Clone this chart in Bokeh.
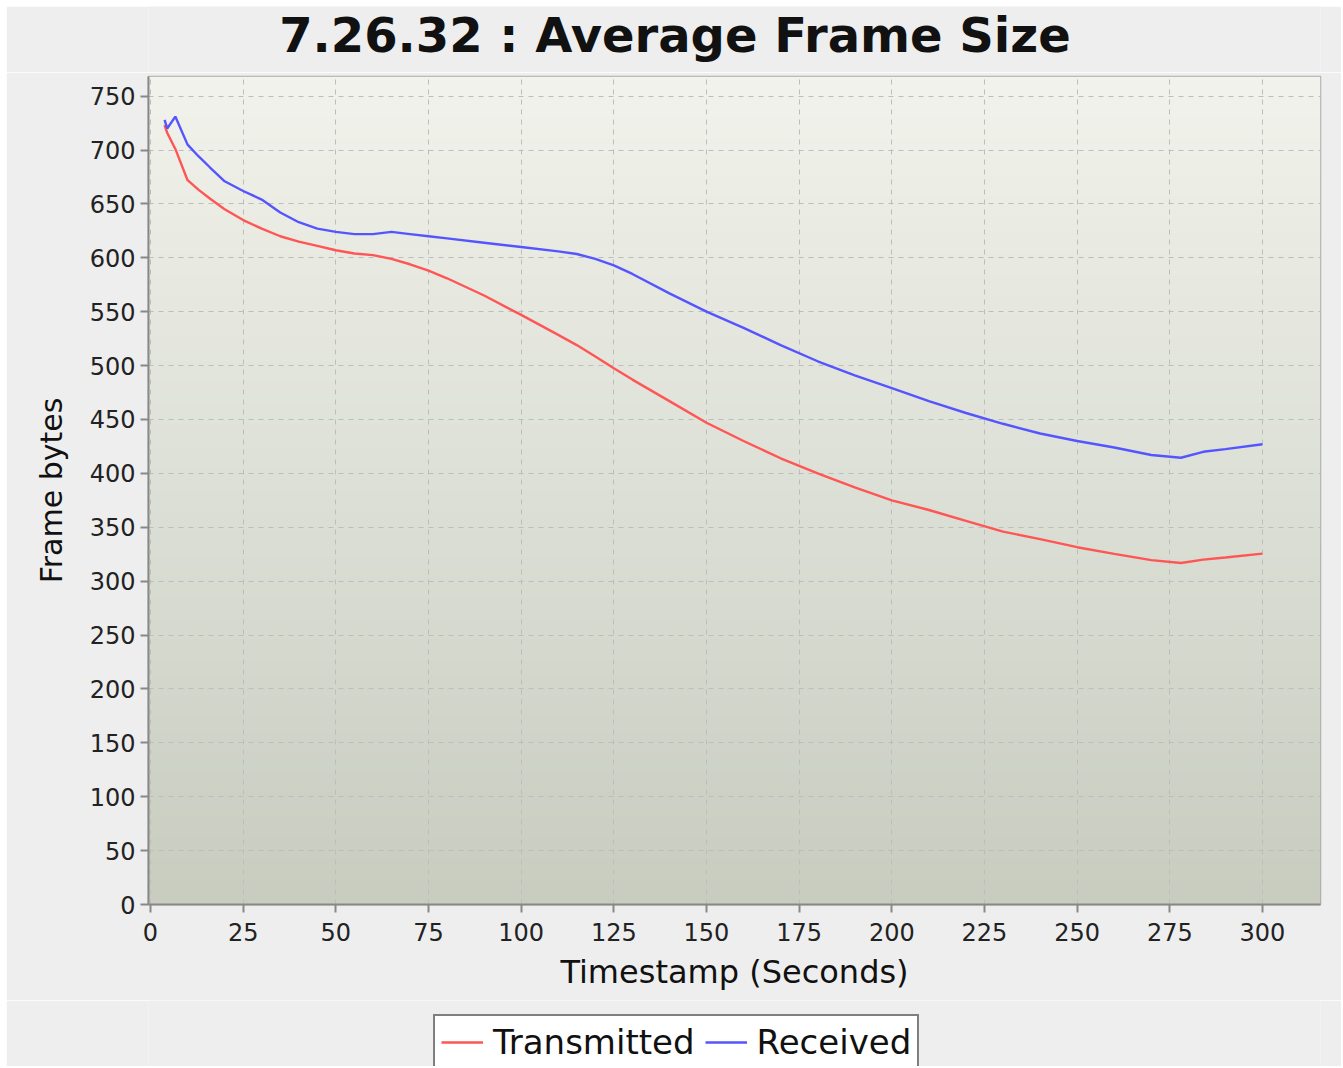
import numpy as np
from bokeh.plotting import figure
from bokeh.layouts import column
from bokeh.models import Range1d, Legend, LegendItem, FixedTicker, Label
from bokeh.embed import file_html
from bokeh.resources import INLINE

# ---- data ----
time_s = [3.8, 4.5, 6.7, 10, 13, 16, 20, 25, 30, 35, 40, 45, 50, 55, 60, 65, 70, 75, 80,
          90, 100, 110, 115, 120, 125, 130, 140, 150, 160, 170, 180, 190, 200, 210, 220,
          230, 240, 250, 260, 270, 278, 284, 290, 300]
received = [728, 720, 731, 705, 694, 684, 671, 662, 654, 642, 633, 627, 624, 622, 622, 624,
            622, 620, 618, 614, 610, 606, 603.5, 599, 593, 585, 567, 550, 535, 519, 504,
            491, 479, 467, 456, 446, 437, 430, 424, 417, 414.5, 420, 422.5, 427]
transmitted = [723, 716, 701, 672, 663, 655, 645, 635, 627, 620, 615, 611, 607, 604, 602.5,
               599, 594, 588, 581, 565, 547, 528.5, 519, 508.5, 497.5, 487, 467, 447, 430, 414,
               400, 387, 375, 366, 356, 346, 339, 331.5, 325.3, 319.5, 316.8, 320, 322,
               325.5]
x_ticks = list(range(0, 301, 25))
y_ticks = list(range(0, 751, 50))
series_names = ["Transmitted", "Received"]
series_colors = ["#FF5555", "#5555FF"]
chart_title = "7.26.32 : Average Frame Size"

X0, X1 = -0.54, 315.65
Y0, Y1 = 0, 768.2
BG = "#EEEEEE"


def blank(height):
    f = figure(width=1335, height=height, output_backend="svg", toolbar_location=None,
               x_axis_type=None, y_axis_type=None, min_border=0,
               x_range=Range1d(0, 1), y_range=Range1d(0, 1))
    f.background_fill_color = BG
    f.border_fill_color = BG
    f.outline_line_color = None
    f.xgrid.visible = False
    f.ygrid.visible = False
    return f


# ---- title strip ----
p0 = blank(66)
p0.add_layout(Label(x=526.5, y=38, x_units="screen", y_units="screen", text=chart_title,
                    text_align="center", text_baseline="alphabetic",
                    text_font="DejaVu Sans", text_font_style="bold",
                    text_font_size="48px", text_color="#111111"))

# ---- main chart ----
p = figure(width=1335, height=928, output_backend="svg", toolbar_location=None,
           title=None, x_range=Range1d(X0, X1), y_range=Range1d(Y0, Y1),
           min_border_left=142, min_border_right=21, min_border_top=4,
           min_border_bottom=96)
p.background_fill_color = BG
p.border_fill_color = BG
p.outline_line_color = "#AAAAAA"
p.outline_line_width = 1.5

# gradient plot background
n = 200
top = np.array([242, 243, 236], dtype=float)
bot = np.array([200, 205, 192], dtype=float)
t = np.linspace(0, 1, n)[:, None]
cols = (bot * (1 - t) + top * t).astype(np.uint32)
img = np.empty((n, 2), dtype=np.uint32)
view = img.view(dtype=np.uint8).reshape((n, 2, 4))
view[:, :, 0] = cols[:, 0:1]
view[:, :, 1] = cols[:, 1:2]
view[:, :, 2] = cols[:, 2:3]
view[:, :, 3] = 255
p.image_rgba(image=[img], x=X0, y=Y0, dw=X1 - X0, dh=Y1 - Y0, level="image")

# grid
for g in (p.xgrid, p.ygrid):
    g.grid_line_color = "#BDBDBD"
    g.grid_line_dash = "5 5"
    g.grid_line_width = 1
p.xgrid.ticker = FixedTicker(ticks=x_ticks)
p.ygrid.ticker = FixedTicker(ticks=y_ticks)

# axes
p.xaxis.ticker = FixedTicker(ticks=x_ticks)
p.yaxis.ticker = FixedTicker(ticks=y_ticks)
for ax in (p.xaxis, p.yaxis):
    ax.axis_line_color = "#888888"
    ax.axis_line_width = 2
    ax.major_tick_line_color = "#888888"
    ax.major_tick_line_width = 2
    ax.major_tick_out = 8
    ax.major_tick_in = 0
    ax.minor_tick_line_color = None
    ax.major_label_text_font = "DejaVu Sans"
    ax.major_label_text_font_size = "24px"
    ax.major_label_text_color = "#222222"
    ax.axis_label_text_font = "DejaVu Sans"
    ax.axis_label_text_font_style = "normal"
    ax.axis_label_text_color = "#111111"
p.xaxis.axis_label = "Timestamp (Seconds)"
p.yaxis.axis_label = "Frame bytes"
p.xaxis.axis_label_text_font_size = "32px"
p.yaxis.axis_label_text_font_size = "30px"
p.xaxis.major_label_standoff = 10
p.yaxis.major_label_standoff = 5
p.xaxis.axis_label_standoff = 9
p.yaxis.axis_label_standoff = 18

r1 = p.line(time_s, transmitted, line_color=series_colors[0], line_width=2.4)
r2 = p.line(time_s, received, line_color=series_colors[1], line_width=2.4)

# ---- legend strip (same series, drawn outside its 0..1 ranges so only the key shows) ----
p2 = blank(66)
l1 = p2.line(time_s, transmitted, line_color=series_colors[0], line_width=2.4)
l2 = p2.line(time_s, received, line_color=series_colors[1], line_width=2.4)

legend = Legend(items=[LegendItem(label=series_names[0], renderers=[l1]),
                       LegendItem(label=series_names[1], renderers=[l2])],
                location=(285, -4), orientation="horizontal")
legend.border_line_color = "black"
legend.border_line_width = 2
legend.background_fill_color = "white"
legend.background_fill_alpha = 1
legend.label_text_font = "DejaVu Sans"
legend.label_text_font_size = "34px"
legend.label_text_color = "#111111"
legend.glyph_width = 42
legend.glyph_height = 30
legend.label_height = 30
legend.label_standoff = 10
legend.spacing = 10
legend.padding = 6
legend.margin = 0
p2.add_layout(legend)

layout = column(p0, p, p2, spacing=0)
layout.margin = (6, 0, 0, 6)

open("out.html", "w").write(file_html(layout, INLINE))
